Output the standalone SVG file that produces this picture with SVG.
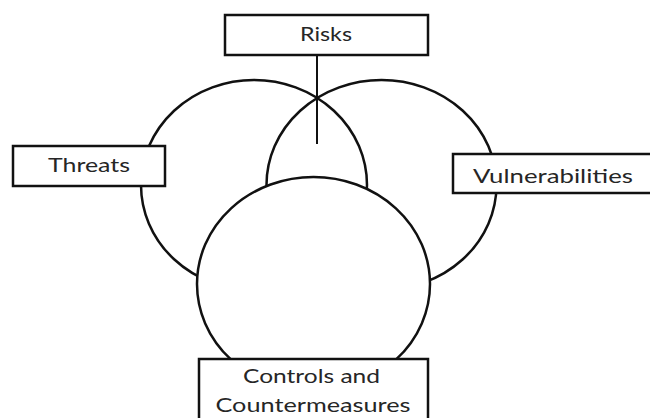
<svg xmlns="http://www.w3.org/2000/svg" width="650" height="418" viewBox="0 0 650 418">
  <style>
    .ring { fill: none; stroke: #111; stroke-width: 2.5; }
    .ring-front { fill: #fff; stroke: #111; stroke-width: 2.5; }
    .box { fill: #fff; stroke: #111; stroke-width: 2.5; }
    .link { stroke: #111; stroke-width: 2; fill: none; }
    .label { font-family: Lato, "Open Sans", "Liberation Sans", sans-serif; font-size: 20px; fill: #262626; text-anchor: middle; }
  </style>
  <rect width="650" height="418" fill="#fff"/>

  <g id="threats-circle">
    <ellipse class="ring" cx="254" cy="185" rx="113" ry="105"/>
  </g>
  <g id="vulnerabilities-circle">
    <ellipse class="ring" cx="381.5" cy="185" rx="115" ry="105"/>
  </g>
  <g id="controls-circle">
    <ellipse class="ring-front" cx="313.5" cy="284" rx="116.5" ry="107"/>
  </g>

  <g id="connectors">
    <line class="link" x1="317" y1="56" x2="317" y2="144"/>
  </g>

  <g id="risks">
    <rect class="box" x="225" y="15" width="203" height="40"/>
    <text class="label" x="326" y="41" textLength="52" lengthAdjust="spacingAndGlyphs">Risks</text>
  </g>
  <g id="threats">
    <rect class="box" x="13" y="146" width="152" height="40"/>
    <text class="label" x="89" y="172" textLength="82" lengthAdjust="spacingAndGlyphs">Threats</text>
  </g>
  <g id="vulnerabilities">
    <rect class="box" x="453" y="154" width="202" height="39"/>
    <text class="label" x="553" y="183" textLength="160" lengthAdjust="spacingAndGlyphs">Vulnerabilities</text>
  </g>
  <g id="controls">
    <rect class="box" x="199" y="359" width="229" height="70"/>
    <text class="label" x="311.5" y="383" textLength="137" lengthAdjust="spacingAndGlyphs">Controls and</text>
    <text class="label" x="313" y="412" textLength="195" lengthAdjust="spacingAndGlyphs">Countermeasures</text>
  </g>
</svg>
